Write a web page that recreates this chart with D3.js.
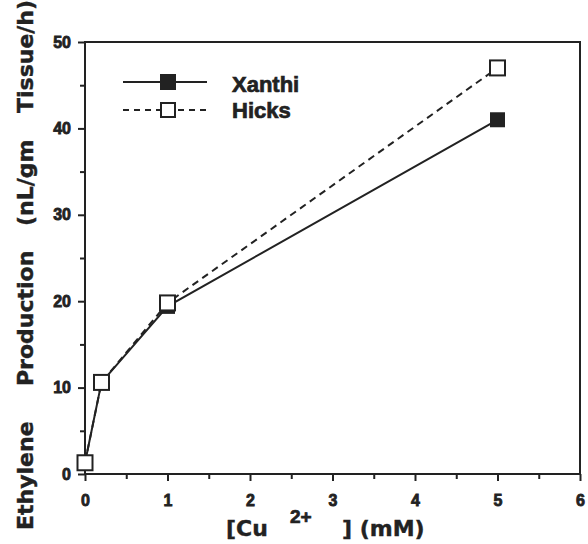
<!DOCTYPE html>
<html><head><meta charset="utf-8">
<script src="https://cdn.jsdelivr.net/npm/d3@7"></script>
<style>body{margin:0;background:#fff}svg{display:block}text{font-family:"DejaVu Sans",sans-serif;font-weight:bold;fill:#222;stroke:#222;stroke-width:0.4px}</style>
</head><body>
<script>
const xanthiX = [0, 0.2, 1, 5];
const xanthiY = [1.3, 10.6, 19.4, 41];
const hicksX = [0, 0.2, 1, 5];
const hicksY = [1.3, 10.6, 19.8, 47];
const xTicks = [0,1,2,3,4,5,6];
const yTicks = [0,10,20,30,40,50];
const seriesNames = ["Xanthi","Hicks"];
const yLabelWords = ["Ethylene","Production","(nL/gm","Tissue/h)"];

const W=588,H=544;
const svg=d3.select("body").append("svg").attr("width",W).attr("height",H);
const x=d3.scaleLinear().domain([0,6]).range([85,580]);
const y=d3.scaleLinear().domain([0,50]).range([474,42]);
const ink="#222";
const helv="Liberation Sans, Arial, sans-serif";

// frame
svg.append("rect").attr("x",x(0)).attr("y",y(50)).attr("width",x(6)-x(0)).attr("height",y(0)-y(50))
  .attr("fill","none").attr("stroke",ink).attr("stroke-width",2);

// x axis
const xa=svg.append("g").attr("transform",`translate(0,${y(0)})`)
  .call(d3.axisBottom(x).tickValues(d3.range(0,6.01,0.5)).tickSize(7).tickFormat(d=>xTicks.includes(d)?d:""));
xa.select(".domain").remove();
xa.selectAll("line").attr("stroke",ink).attr("stroke-width",2);
xa.selectAll(".tick").filter(d=>!xTicks.includes(d)).select("line").attr("y2",5);
xa.selectAll("text").attr("font-size",16).attr("y",21).attr("dy","0.71em").attr("fill",ink);

// y axis
const ya=svg.append("g").attr("transform",`translate(${x(0)},0)`)
  .call(d3.axisLeft(y).tickValues(d3.range(0,50.01,5)).tickSize(7).tickFormat(d=>yTicks.includes(d)?d:""));
ya.select(".domain").remove();
ya.selectAll("line").attr("stroke",ink).attr("stroke-width",2);
ya.selectAll(".tick").filter(d=>!yTicks.includes(d)).select("line").attr("x2",-5);
ya.selectAll("text").attr("font-size",16).attr("x",-14).attr("fill",ink);
svg.selectAll(".tick text").style("font-family",helv).style("font-weight","bold").style("stroke",ink).style("stroke-width","0.8px");

// lines
const line=d3.line().x(d=>x(d[0])).y(d=>y(d[1]));
const xd=xanthiX.map((v,i)=>[v,xanthiY[i]]);
const hd=hicksX.map((v,i)=>[v,hicksY[i]]);
svg.append("path").attr("d",line(hd)).attr("fill","none").attr("stroke",ink).attr("stroke-width",2).attr("stroke-dasharray","7,5");
svg.append("path").attr("d",line(xd)).attr("fill","none").attr("stroke",ink).attr("stroke-width",2);
const s=15;
svg.selectAll(".mx").data(xd).enter().append("rect").attr("x",d=>x(d[0])-s/2).attr("y",d=>y(d[1])-s/2)
  .attr("width",s).attr("height",s).attr("fill",ink);
svg.selectAll(".mh").data(hd).enter().append("rect").attr("x",d=>x(d[0])-s/2).attr("y",d=>y(d[1])-s/2)
  .attr("width",s).attr("height",s).attr("fill","#fff").attr("stroke",ink).attr("stroke-width",2);

// legend
const lg=svg.append("g");
lg.append("line").attr("x1",123).attr("x2",207).attr("y1",82).attr("y2",82).attr("stroke",ink).attr("stroke-width",2);
lg.append("rect").attr("x",160).attr("y",74).attr("width",16).attr("height",16).attr("fill",ink);
lg.append("line").attr("x1",123).attr("x2",207).attr("y1",110).attr("y2",110).attr("stroke",ink).attr("stroke-width",2).attr("stroke-dasharray","6,5");
lg.append("rect").attr("x",161).attr("y",103).attr("width",14).attr("height",14).attr("fill","#fff").attr("stroke",ink).attr("stroke-width",2);
lg.append("text").attr("x",232).attr("y",92).attr("font-size",22).style("font-family",helv).style("stroke-width","0.7px").text(seriesNames[0]);
lg.append("text").attr("x",232).attr("y",118).attr("font-size",22).style("font-family",helv).style("stroke-width","0.7px").text(seriesNames[1]);

// x label
svg.append("text").attr("x",226).attr("y",536).attr("font-size",22).text("[Cu");
svg.append("text").attr("x",290).attr("y",523).attr("font-size",19).style("font-family",helv).style("stroke-width","0.7px").text("2+");
svg.append("text").attr("x",342).attr("y",536).attr("font-size",22).text("] (mM)");

// y label words
const yPos=[530,386,226,113];
svg.selectAll(".yl").data(yLabelWords).enter().append("text")
  .attr("transform",(d,i)=>`translate(33,${yPos[i]}) rotate(-90)`).attr("font-size",22).text(d=>d);
</script>
</body></html>
